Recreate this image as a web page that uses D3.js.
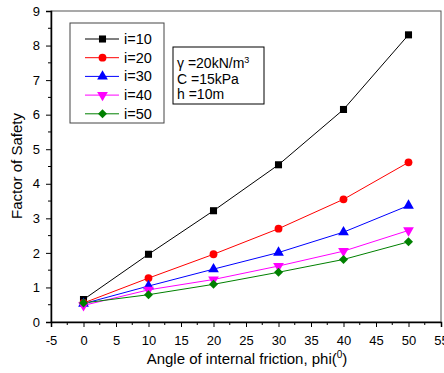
<!DOCTYPE html>
<html><head><meta charset="utf-8">
<script src="https://cdn.jsdelivr.net/npm/d3@7"></script>
<style>body{margin:0;background:#fff;}svg{font-family:"Liberation Sans",Arial,sans-serif;}</style>
</head><body><svg id="c" width="444" height="373"></svg>
<script>
const phi = [0, 10, 20, 30, 40, 50];
const seriesNames = ["i=10", "i=20", "i=30", "i=40", "i=50"];
const fs_i10 = [0.65, 1.96, 3.22, 4.55, 6.15, 8.31];
const fs_i20 = [0.55, 1.27, 1.96, 2.70, 3.55, 4.62];
const fs_i30 = [0.53, 1.04, 1.53, 2.01, 2.60, 3.37];
const fs_i40 = [0.48, 0.93, 1.23, 1.62, 2.05, 2.65];
const fs_i50 = [0.55, 0.79, 1.09, 1.44, 1.81, 2.32];
const xTicks = [-5, 0, 5, 10, 15, 20, 25, 30, 35, 40, 45, 50, 55];
const yTicks = [0, 1, 2, 3, 4, 5, 6, 7, 8, 9];
const colors = ["#000000", "#ff0000", "#0000ff", "#ff00ff", "#008000"];
const allSeries = [fs_i10, fs_i20, fs_i30, fs_i40, fs_i50];

const svg = d3.select("#c");
const L = 51, R = 441, T = 11, B = 322;
const x = d3.scaleLinear().domain([-5, 55]).range([L, R]);
const y = d3.scaleLinear().domain([0, 9]).range([B, T]);
const fmt = d => String(d);

// frame
svg.append("rect").attr("x", L).attr("y", T).attr("width", R - L).attr("height", B - T)
  .attr("fill", "none").attr("stroke", "#555").attr("stroke-width", 1);

// x axis
const xAxis = d3.axisBottom(x).tickValues(xTicks).tickSize(5).tickPadding(9).tickFormat(fmt);
const gx = svg.append("g").attr("transform", `translate(0,${B})`).call(xAxis);
gx.select(".domain").attr("stroke-width", 1.5);
gx.selectAll("text").attr("font-size", 13).attr("fill", "#000");
const xMinor = d3.range(-2.5, 55, 5);
svg.append("g").selectAll("line").data(xMinor).join("line")
  .attr("x1", d => x(d)).attr("x2", d => x(d)).attr("y1", B).attr("y2", B + 3).attr("stroke", "#000");

// y axis
const yAxis = d3.axisLeft(y).tickValues(yTicks).tickSize(5).tickPadding(6).tickFormat(fmt);
const gy = svg.append("g").attr("transform", `translate(${L},0)`).call(yAxis);
gy.select(".domain").attr("stroke-width", 1.5);
gy.selectAll("text").attr("font-size", 13).attr("fill", "#000");
const yMinor = d3.range(0.5, 9, 1);
svg.append("g").selectAll("line").data(yMinor).join("line")
  .attr("x1", L - 3).attr("x2", L).attr("y1", d => y(d)).attr("y2", d => y(d)).attr("stroke", "#000");

// axis titles
svg.append("text").attr("x", 247).attr("y", 364).attr("text-anchor", "middle").attr("font-size", 15)
  .html('Angle of internal friction, phi(<tspan dy="-6" font-size="10">0</tspan><tspan dy="6">)</tspan>');
svg.append("text").attr("transform", "translate(22,166) rotate(-90)").attr("text-anchor", "middle")
  .attr("font-size", 15).text("Factor of Safety");

// marker shapes: [type, size, rotation]
const markerDefs = [
  [d3.symbolSquare, 50, 0],
  [d3.symbolCircle, 48, 0],
  [d3.symbolTriangle, 50, 0],
  [d3.symbolTriangle, 50, 180],
  [d3.symbolSquare, 40, 45]
];
function markerPath(k) { return d3.symbol().type(markerDefs[k][0]).size(markerDefs[k][1])(); }
function markerRot(k) { return markerDefs[k][2] ? ` rotate(${markerDefs[k][2]})` : ""; }

const line = d3.line().x((d, i) => x(phi[i])).y(d => y(d));
allSeries.forEach((vals, k) => {
  svg.append("path").datum(vals).attr("d", line).attr("fill", "none").attr("stroke", colors[k]).attr("stroke-width", 1);
});
allSeries.forEach((vals, k) => {
  svg.append("g").selectAll("path").data(vals).join("path")
    .attr("fill", colors[k]).attr("d", markerPath(k))
    .attr("transform", (d, i) => `translate(${x(phi[i])},${y(d)})` + markerRot(k));
});

// legend
const lg = svg.append("g");
lg.append("rect").attr("x", 70).attr("y", 23).attr("width", 94).attr("height", 100)
  .attr("fill", "#fff").attr("stroke", "#444").attr("stroke-width", 1);
seriesNames.forEach((name, k) => {
  const yy = 39 + k * 18.7;
  lg.append("line").attr("x1", 85).attr("x2", 119).attr("y1", yy).attr("y2", yy).attr("stroke", colors[k]).attr("stroke-width", 1);
  lg.append("path").attr("fill", colors[k]).attr("d", markerPath(k))
    .attr("transform", `translate(102.5,${yy})` + markerRot(k));
  lg.append("text").attr("x", 124).attr("y", yy + 5).attr("font-size", 14.5).text(name);
});

// info box
const ib = svg.append("g");
ib.append("rect").attr("x", 173).attr("y", 47).attr("width", 91).attr("height", 57)
  .attr("fill", "#fff").attr("stroke", "#000").attr("stroke-width", 1);
ib.append("text").attr("x", 177).attr("y", 68).attr("font-size", 14)
  .html('γ =20kN/m<tspan dy="-5" font-size="9">3</tspan>');
ib.append("text").attr("x", 177).attr("y", 84).attr("font-size", 14).text("C =15kPa");
ib.append("text").attr("x", 177).attr("y", 99).attr("font-size", 14).text("h =10m");
</script></body></html>
